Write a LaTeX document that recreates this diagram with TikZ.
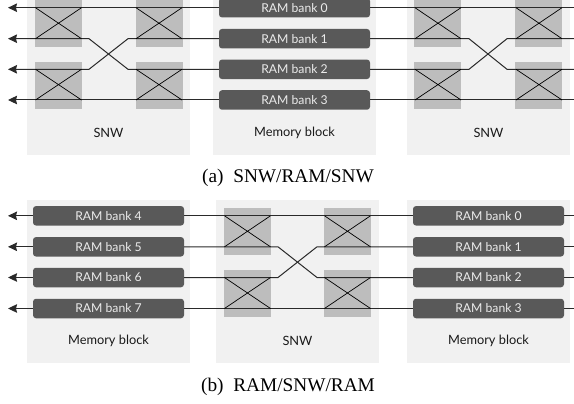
\documentclass[tikz,border=0pt]{standalone}
\usepackage{fontspec}
\setmainfont{Liberation Serif}
\newfontfamily\gill{Lato}
\usetikzlibrary{arrows.meta}
\definecolor{panelc}{HTML}{F1F1F1}
\definecolor{sqc}{HTML}{BDBDBD}
\definecolor{bankc}{HTML}{595959}
\definecolor{wirec}{HTML}{2A2A2A}
\tikzset{
  panel/.style={fill=panelc,draw=none,minimum width=163pt,inner sep=0pt,anchor=north west},
  bankbox/.style={fill=bankc,draw=none,rounded corners=3pt,minimum width=151pt,minimum height=19.5pt,inner sep=0pt,text=white!92!black,font=\gill\fontsize{12.2}{13}\selectfont},
  sq/.style={fill=sqc,draw=none,minimum width=47pt,minimum height=47pt,inner sep=0pt},
  wire/.style={draw=wirec,line width=1pt},
  arrowwire/.style={wire,-{Stealth[length=9pt,width=8.5pt,inset=1pt]}},
  xbar/.style={draw=black,line width=0.7pt},
  lbl/.style={font=\gill\fontsize{12.8}{14}\selectfont,text=black!90},
  captext/.style={font=\fontsize{19.3}{21}\selectfont,text=black}
}
\begin{document}
\begin{tikzpicture}[x=1pt,y=-1pt]
\useasboundingbox (0,0) rectangle (574,404);
\clip (0,0) rectangle (574,404);
% ---------- (a)
\node[panel,minimum height=175pt] (aL) at (27,-20) {};
\node[panel,minimum height=175pt] (aM) at (213,-20) {};
\node[panel,minimum height=175pt] (aR) at (407,-20) {};
\node[lbl] (aLt) at (108.5,133) {SNW};
\node[lbl] (aMt) at (294.5,133) {Memory block};
\node[lbl] (aRt) at (488.5,133) {SNW};
\foreach \n/\x/\y in {a1/58.5/23.5,a2/159.5/23.5,a3/58.5/85.5,a4/159.5/85.5,a5/437.5/23.5,a6/538.5/23.5,a7/437.5/85.5,a8/538.5/85.5}
  \node[sq] (\n) at (\x,\y) {};
\foreach \i/\y in {0/7.7,1/38.7,2/69.3,3/100}
  \node[bankbox] (ab\i) at (294.5,\y) {RAM bank \i};
% free ends
\foreach \i/\y in {0/7.7,1/38.7,2/69.3,3/100}{
  \coordinate (aA\i) at (8,\y);
  \coordinate (aE\i) at (574,\y);
}
\coordinate (ax1) at (89,38.7); \coordinate (ax2) at (128,69.3);
\coordinate (ax3) at (89,69.3); \coordinate (ax4) at (128,38.7);
\coordinate (ax5) at (469,38.7); \coordinate (ax6) at (507,69.3);
\coordinate (ax7) at (469,69.3); \coordinate (ax8) at (507,38.7);
\draw[arrowwire] (ab0.west) -- (aA0);
\draw[arrowwire] (ab3.west) -- (aA3);
\draw[arrowwire] (ab1.west) -- (ax4) -- (ax3) -- (aA2);
\draw[arrowwire] (ab2.west) -- (ax2) -- (ax1) -- (aA1);
\draw[wire] (ab0.east) -- (aE0);
\draw[wire] (ab3.east) -- (aE3);
\draw[wire] (ab1.east) -- (ax5) -- (ax6) -- (aE2);
\draw[wire] (ab2.east) -- (ax7) -- (ax8) -- (aE1);
\foreach \n/\xa/\xb/\ya/\yb in {p1/35.5/81.5/7.7/38.7,p2/35.5/81.5/69.3/100,p3/136/182/7.7/38.7,p4/136/182/69.3/100,p5/415/461/7.7/38.7,p6/415/461/69.3/100,p7/516/562/7.7/38.7,p8/516/562/69.3/100}{
  \coordinate (\n tl) at (\xa,\ya); \coordinate (\n br) at (\xb,\yb);
  \coordinate (\n bl) at (\xa,\yb); \coordinate (\n tr) at (\xb,\ya);
  \draw[xbar] (\n tl) -- (\n br) (\n bl) -- (\n tr);
}
\node[captext] (acap) at (288,178) {(a)\hspace{0.5em}SNW/RAM/SNW};
% ---------- (b)
\node[panel,minimum height=163pt] (bL) at (27,200) {};
\node[panel,minimum height=163pt] (bM) at (216,200) {};
\node[panel,minimum height=163pt] (bR) at (407,200) {};
\node[lbl] (bLt) at (108.5,341) {Memory block};
\node[lbl] (bMt) at (297.5,341) {SNW};
\node[lbl] (bRt) at (488.5,341) {Memory block};
\foreach \n/\x/\y in {b1/247.5/231.5,b2/347.5/231.5,b3/247.5/293.5,b4/347.5/293.5}
  \node[sq] (\n) at (\x,\y) {};
\foreach \i/\j/\y in {4/0/215.8,5/1/246.8,6/2/277.5,7/3/308.5}{
  \node[bankbox] (bb\i) at (108.5,\y) {RAM bank \i};
  \node[bankbox] (bb\j) at (488.5,\y) {RAM bank \j};
  \coordinate (bA\i) at (8,\y);
  \coordinate (bE\j) at (574,\y);
}
\coordinate (bx1) at (278,246.8); \coordinate (bx2) at (317,277.5);
\coordinate (bx3) at (278,277.5); \coordinate (bx4) at (317,246.8);
\draw[arrowwire] (bb4.west) -- (bA4);
\draw[arrowwire] (bb5.west) -- (bA5);
\draw[arrowwire] (bb6.west) -- (bA6);
\draw[arrowwire] (bb7.west) -- (bA7);
\draw[wire] (bb0.east) -- (bE0);
\draw[wire] (bb1.east) -- (bE1);
\draw[wire] (bb2.east) -- (bE2);
\draw[wire] (bb3.east) -- (bE3);
\draw[wire] (bb4.east) -- (bb0.west);
\draw[wire] (bb7.east) -- (bb3.west);
\draw[wire] (bb5.east) -- (bx1) -- (bx2) -- (bb2.west);
\draw[wire] (bb6.east) -- (bx3) -- (bx4) -- (bb1.west);
\foreach \n/\xa/\xb/\ya/\yb in {q1/224.5/270.5/215.8/246.8,q2/224.5/270.5/277.5/308.5,q3/324.5/370.5/215.8/246.8,q4/324.5/370.5/277.5/308.5}{
  \coordinate (\n tl) at (\xa,\ya); \coordinate (\n br) at (\xb,\yb);
  \coordinate (\n bl) at (\xa,\yb); \coordinate (\n tr) at (\xb,\ya);
  \draw[xbar] (\n tl) -- (\n br) (\n bl) -- (\n tr);
}
\node[captext] (bcap) at (288,387) {(b)\hspace{0.5em}RAM/SNW/RAM};
\end{tikzpicture}
\end{document}
